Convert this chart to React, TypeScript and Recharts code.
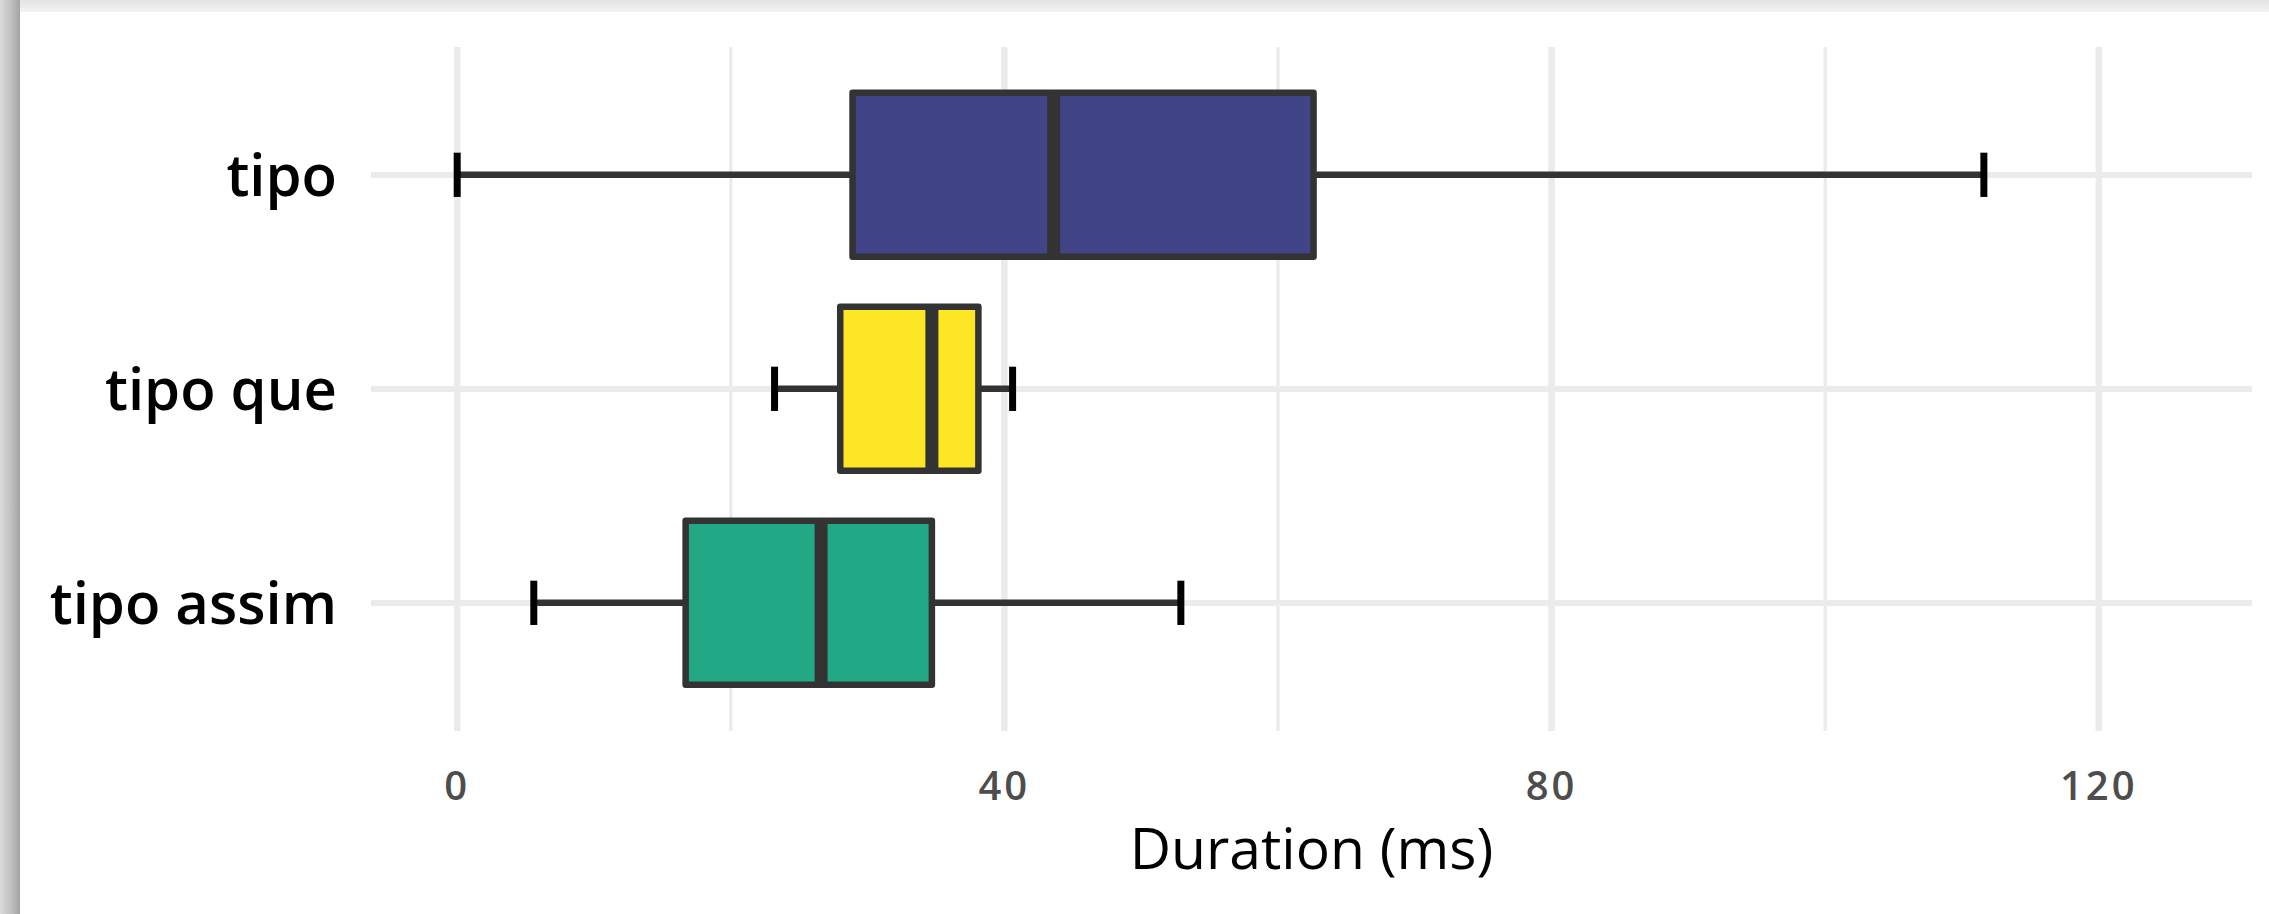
import { Bar, CartesianGrid, ComposedChart, XAxis, YAxis } from "recharts";

const categories = ["tipo", "tipo que", "tipo assim"];
const mins = [0, 23.2, 5.6];
const q1s = [28.9, 28.0, 16.7];
const medians = [43.6, 34.7, 26.6];
const q3s = [62.6, 38.1, 34.7];
const maxs = [111.6, 40.6, 52.9];
const fills = ["#414487", "#fde725", "#22a884"];
const xTicks = [0, 20, 40, 60, 80, 100, 120];

const rows = categories.map((name, i) => ({
  name,
  range: [mins[i], maxs[i]],
  min: mins[i],
  q1: q1s[i],
  median: medians[i],
  q3: q3s[i],
  max: maxs[i],
  fill: fills[i],
}));

const FONT = "'Open Sans', 'Noto Sans', sans-serif";

// whole box + whiskers drawn from the bar's min..max extent
function BoxShape(props: any) {
  const { x, y, width, height, payload } = props;
  const { min, q1, median, q3, max, fill } = payload;
  const px = (v: number) => x + ((v - min) / (max - min)) * width;
  const cy = y + height / 2;
  const capHalf = height * 0.135;
  return (
    <g>
      <line x1={px(min)} x2={px(q1)} y1={cy} y2={cy} stroke="#333" strokeWidth={6.5} />
      <line x1={px(q3)} x2={px(max)} y1={cy} y2={cy} stroke="#333" strokeWidth={6.5} />
      <rect
        x={px(q1)}
        y={y}
        width={px(q3) - px(q1)}
        height={height}
        fill={fill}
        stroke="#333"
        strokeWidth={6.5}
        strokeLinejoin="round"
      />
      <line x1={px(median)} x2={px(median)} y1={y} y2={y + height} stroke="#333" strokeWidth={13} />
      <line x1={px(min)} x2={px(min)} y1={cy - capHalf} y2={cy + capHalf} stroke="#000" strokeWidth={7} />
      <line x1={px(max)} x2={px(max)} y1={cy - capHalf} y2={cy + capHalf} stroke="#000" strokeWidth={7} />
    </g>
  );
}

export default function App() {
  return (
    <div
      style={{
        position: "absolute",
        left: 0,
        top: 0,
        width: 2269,
        height: 914,
        overflow: "hidden",
        background: "linear-gradient(#e4e4e4, #f3f3f3 12px)",
      }}
    >
      <div
        style={{
          position: "absolute",
          left: 0,
          top: 0,
          width: 20,
          height: 914,
          background: "linear-gradient(to right, #dcdcdc, #bdbdbd 60%, #a3a3a3)",
        }}
      />
      <div style={{ position: "absolute", left: 20, top: 12, width: 2249, height: 902, background: "#fff" }}>
        <ComposedChart
          width={2249}
          height={902}
          layout="vertical"
          data={rows}
          margin={{ top: 35, right: 17, left: 0, bottom: 0 }}
          barCategoryGap="11.6%"
        >
          <CartesianGrid
            syncWithTicks
            stroke="#ebebeb"
            strokeWidth={6}
            vertical={(p: any) => (
              <line
                key={p.key}
                x1={p.x1}
                x2={p.x2}
                y1={p.y1}
                y2={p.y2}
                stroke="#ebebeb"
                strokeWidth={p.index % 2 === 0 ? 6.5 : 3.3}
              />
            )}
          />
          <XAxis
            type="number"
            domain={[-6.3, 131.2]}
            allowDataOverflow
            ticks={xTicks}
            tickFormatter={(v: number) => (v % 40 === 0 ? String(v) : "")}
            axisLine={false}
            tickLine={false}
            tickSize={0}
            tickMargin={41}
            height={183}
            tick={{ fill: "#4d4d4d", fontSize: 40, fontFamily: FONT, fontWeight: 600, letterSpacing: 3 }}
            label={{
              value: "Duration (ms)",
              position: "insideTop",
              offset: 98,
              fill: "#000",
              fontSize: 57,
              fontFamily: FONT,
            }}
          />
          <YAxis
            type="category"
            dataKey="name"
            width={351}
            axisLine={false}
            tickLine={false}
            tickSize={0}
            tickMargin={34}
            padding={{ top: 21, bottom: 21 }}
            tick={{ fill: "#000", fontSize: 58, fontFamily: FONT, fontWeight: 600 }}
          />
          <Bar dataKey="range" shape={BoxShape} isAnimationActive={false} />
        </ComposedChart>
      </div>
    </div>
  );
}
